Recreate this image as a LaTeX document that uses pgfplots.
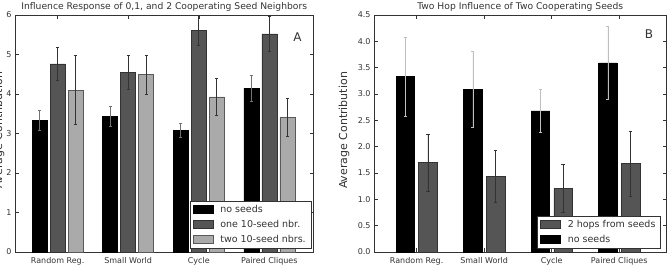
\documentclass[border=0pt]{standalone}
\usepackage{fontspec}
\setmainfont{DejaVu Sans}
\usepackage{pgfplots}
\pgfplotsset{compat=1.18}
\usepackage{pgfplotstable}

\definecolor{darkbar}{HTML}{555555}
\definecolor{lightbar}{HTML}{AAAAAA}
\definecolor{axisgray}{HTML}{333333}

\pgfplotstableread{
x y e
-0.255 3.33 0.25
0.745 3.44 0.26
1.745 3.08 0.17
2.745 4.14 0.33
}\Anone
\pgfplotstableread{
x y e
0 4.76 0.42
1 4.55 0.43
2 5.62 0.38
3 5.52 0.45
}\Aone
\pgfplotstableread{
x y e
0.255 4.10 0.87
1.255 4.49 0.49
2.255 3.93 0.46
3.255 3.40 0.48
}\Atwo
\pgfplotstableread{
x y e
0.168 1.70 0.54
1.168 1.44 0.50
2.168 1.21 0.45
3.168 1.68 0.62
}\Bhops
\pgfplotstableread{
x y e
-0.168 3.33 0.75
0.832 3.09 0.73
1.832 2.68 0.40
2.832 3.59 0.70
}\Bnone

\pgfplotsset{
  panel/.style={
    scale only axis,
    height=237pt,
    anchor=south west,
    axis line style={axisgray, line width=0.6pt},
    tick align=inside,
    major tick length=4pt,
    tick style={axisgray, line width=0.5pt},
    xtick={0,1,2,3},
    xticklabels={Random Reg.,Small World,Cycle,Paired Cliques},
    ticklabel style={font=\fontsize{8}{9.6}\selectfont, text=axisgray},
    xticklabel style={yshift=-1.5pt},
    /pgf/number format/assume math mode=true,
    ymin=0,
    title style={anchor=base, font=\fontsize{9.2}{11}\selectfont, text=axisgray},
    ylabel style={at={(axis description cs:0,0.5)}, anchor=south, xshift=3pt, font=\fontsize{11}{13}\selectfont, text=axisgray},
    legend style={draw=axisgray, line width=0.5pt, fill=white, font=\fontsize{9.5}{11}\selectfont, text=axisgray, row sep=2.5pt, inner xsep=3pt, inner ysep=2pt,
      /tikz/every odd column/.append style={column sep=5pt}},
    legend cell align=left,
    legend image code/.code={\draw[#1, line width=0.5pt] (0pt,-3.5pt) rectangle (20pt,4pt);},
  },
  bars/.style n args={2}{ybar, bar shift=0pt, line width=0.5pt,
    error bars/y dir=both, error bars/y explicit,
    error bars/error bar style={color=#1, line width=0.6pt},
    error bars/error mark options={rotate=90, mark size=1.6pt, color=#1, line width=0.6pt},
    bar width=#2,
  },
}

\begin{document}
\begin{tikzpicture}
\useasboundingbox (0,0) rectangle (668pt,269pt);
\clip (0,0) rectangle (668pt,269pt);

\begin{axis}[panel,
  at={(15pt,17pt)},
  width=298.5pt,
  xmin=-0.604, xmax=3.626,
  ymax=6,
  ytick={0,1,2,3,4,5,6},
  title={Influence Response of 0,1, and 2 Cooperating Seed Neighbors},
  ylabel={Average Contribution},
  ylabel style={yshift=7pt},
  legend style={at={(1,0)}, anchor=south east, xshift=-2.5pt, yshift=3.7pt},
]
\addplot[bars={black!55}{0.213}, fill=black, draw=black]
  table[x=x, y=y, y error=e] {\Anone};
\addlegendentry{no seeds}
\addplot[bars={black!80}{0.213}, fill=darkbar, draw=black!80]
  table[x=x, y=y, y error=e] {\Aone};
\addlegendentry{one 10-seed nbr.}
\addplot[bars={black!80}{0.213}, fill=lightbar, draw=black!65]
  table[x=x, y=y, y error=e] {\Atwo};
\addlegendentry{two 10-seed nbrs.}
\node[font=\fontsize{12}{14}\selectfont, text=axisgray] at (axis cs:3.4,5.43) {A};
\end{axis}

\begin{axis}[panel,
  at={(374pt,17pt)},
  width=292.5pt,
  xmin=-0.631, xmax=3.70,
  ymax=4.5,
  ytick={0,0.5,1,1.5,2,2.5,3,3.5,4,4.5},
  yticklabels={0.0,0.5,1.0,1.5,2.0,2.5,3.0,3.5,4.0,4.5},
  title={Two Hop Influence of Two Cooperating Seeds},
  ylabel={Average Contribution},
  ylabel style={yshift=21pt},
  legend style={at={(1,0)}, anchor=south east, xshift=-5.8pt, yshift=3.7pt},
]
\addplot[bars={black!80}{0.274}, fill=darkbar, draw=black!80]
  table[x=x, y=y, y error=e] {\Bhops};
\addlegendentry{2 hops from seeds}
\addplot[bars={black!25}{0.274}, fill=black, draw=black]
  table[x=x, y=y, y error=e] {\Bnone};
\addlegendentry{no seeds}
\node[font=\fontsize{12}{14}\selectfont, text=axisgray] at (axis cs:3.44,4.13) {B};
\end{axis}
\end{tikzpicture}
\end{document}
